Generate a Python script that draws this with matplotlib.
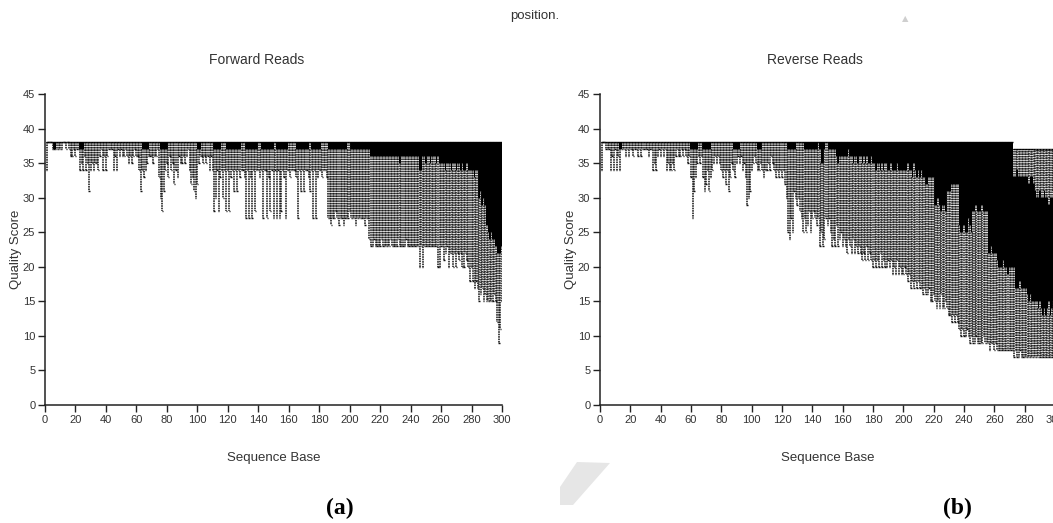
import numpy as np
import matplotlib
matplotlib.use("Agg")
from matplotlib import pyplot as plt
from matplotlib.patches import Polygon

plt.rcParams['font.family'] = ['Liberation Sans', 'DejaVu Sans']

# per-base quality summaries (bases 1..300)
# forward reads: lower whisker, box bottom, box top (= upper whisker)
fwd_low = [
    34, 38, 38, 38, 37, 37, 37, 37, 37, 37,
    37, 38, 38, 37, 38, 37, 36, 36, 37, 36,
    37, 37, 34, 35, 34, 36, 34, 35, 31, 34,
    35, 34, 35, 35, 34, 36, 37, 34, 36, 34,
    36, 37, 37, 37, 34, 36, 34, 37, 36, 37,
    36, 36, 37, 36, 35, 36, 35, 36, 37, 36,
    36, 34, 31, 34, 33, 34, 35, 36, 36, 36,
    35, 36, 36, 37, 33, 30, 28, 31, 34, 35,
    33, 36, 34, 35, 32, 34, 33, 36, 35, 35,
    36, 35, 36, 37, 34, 32, 33, 31, 30, 32,
    35, 36, 36, 35, 36, 35, 36, 34, 36, 34,
    28, 30, 34, 28, 33, 34, 30, 34, 28, 34,
    28, 33, 34, 31, 34, 31, 34, 33, 34, 34,
    33, 27, 34, 27, 33, 27, 34, 28, 34, 34,
    33, 34, 27, 34, 34, 27, 33, 28, 34, 27,
    34, 27, 34, 27, 28, 34, 33, 27, 34, 34,
    33, 34, 34, 34, 33, 27, 34, 31, 34, 31,
    34, 34, 33, 31, 34, 27, 34, 27, 33, 34,
    34, 33, 34, 34, 33, 27, 27, 26, 27, 27,
    28, 27, 26, 27, 27, 26, 27, 27, 27, 28,
    27, 27, 27, 26, 27, 27, 27, 27, 27, 26,
    27, 27, 24, 23, 23, 24, 23, 23, 23, 23,
    24, 23, 23, 23, 23, 23, 24, 23, 23, 23,
    23, 24, 23, 23, 23, 23, 24, 23, 23, 23,
    23, 23, 23, 23, 23, 20, 23, 20, 23, 23,
    23, 23, 23, 23, 23, 23, 23, 20, 20, 23,
    23, 21, 22, 23, 20, 22, 22, 20, 22, 20,
    22, 21, 22, 20, 20, 22, 21, 20, 18, 20,
    18, 17, 18, 17, 15, 16, 17, 15, 16, 15,
    15, 15, 15, 15, 16, 15, 12, 9, 11, 15,
]
fwd_q1 = [
    38, 38, 38, 38, 38, 37, 37, 38, 38, 38,
    38, 38, 38, 38, 38, 38, 38, 38, 38, 38,
    38, 38, 37, 37, 37, 38, 38, 38, 38, 38,
    38, 38, 38, 38, 38, 38, 38, 38, 38, 38,
    38, 38, 38, 38, 38, 38, 38, 38, 38, 38,
    38, 38, 38, 38, 38, 38, 38, 38, 38, 38,
    38, 38, 38, 37, 37, 37, 37, 37, 38, 38,
    38, 38, 38, 38, 38, 37, 37, 37, 37, 37,
    38, 38, 38, 38, 38, 38, 38, 38, 38, 38,
    38, 38, 38, 38, 38, 38, 38, 38, 38, 37,
    37, 37, 38, 38, 38, 38, 38, 38, 38, 38,
    37, 37, 37, 37, 37, 38, 38, 38, 37, 37,
    37, 37, 37, 37, 37, 37, 37, 37, 38, 38,
    38, 37, 37, 37, 37, 37, 37, 37, 37, 38,
    38, 37, 37, 37, 37, 37, 37, 37, 37, 37,
    38, 37, 37, 37, 37, 37, 37, 37, 37, 38,
    38, 38, 38, 38, 37, 37, 37, 37, 37, 37,
    37, 37, 37, 38, 37, 37, 37, 37, 37, 37,
    37, 38, 38, 38, 38, 37, 37, 37, 37, 37,
    37, 37, 37, 37, 37, 37, 37, 37, 38, 38,
    37, 37, 37, 37, 37, 37, 37, 37, 37, 37,
    37, 37, 37, 36, 36, 36, 36, 36, 36, 36,
    36, 36, 36, 36, 36, 36, 36, 36, 36, 36,
    36, 36, 35, 36, 36, 36, 36, 36, 36, 36,
    36, 36, 36, 36, 36, 34, 34, 36, 36, 35,
    36, 36, 35, 36, 36, 36, 35, 36, 35, 35,
    35, 35, 34, 35, 35, 35, 34, 35, 35, 34,
    35, 35, 34, 35, 34, 34, 35, 34, 34, 34,
    34, 33, 34, 34, 30, 31, 29, 30, 29, 26,
    25, 24, 25, 24, 24, 23, 22, 22, 22, 23,
]
fwd_top = [
    38, 38, 38, 38, 38, 38, 38, 38, 38, 38, 38, 38, 38, 38, 38, 38, 38, 38, 38, 38,
    38, 38, 38, 38, 38, 38, 38, 38, 38, 38, 38, 38, 38, 38, 38, 38, 38, 38, 38, 38,
    38, 38, 38, 38, 38, 38, 38, 38, 38, 38, 38, 38, 38, 38, 38, 38, 38, 38, 38, 38,
    38, 38, 38, 38, 38, 38, 38, 38, 38, 38, 38, 38, 38, 38, 38, 38, 38, 38, 38, 38,
    38, 38, 38, 38, 38, 38, 38, 38, 38, 38, 38, 38, 38, 38, 38, 38, 38, 38, 38, 38,
    38, 38, 38, 38, 38, 38, 38, 38, 38, 38, 38, 38, 38, 38, 38, 38, 38, 38, 38, 38,
    38, 38, 38, 38, 38, 38, 38, 38, 38, 38, 38, 38, 38, 38, 38, 38, 38, 38, 38, 38,
    38, 38, 38, 38, 38, 38, 38, 38, 38, 38, 38, 38, 38, 38, 38, 38, 38, 38, 38, 38,
    38, 38, 38, 38, 38, 38, 38, 38, 38, 38, 38, 38, 38, 38, 38, 38, 38, 38, 38, 38,
    38, 38, 38, 38, 38, 38, 38, 38, 38, 38, 38, 38, 38, 38, 38, 38, 38, 38, 38, 38,
    38, 38, 38, 38, 38, 38, 38, 38, 38, 38, 38, 38, 38, 38, 38, 38, 38, 38, 38, 38,
    38, 38, 38, 38, 38, 38, 38, 38, 38, 38, 38, 38, 38, 38, 38, 38, 38, 38, 38, 38,
    38, 38, 38, 38, 38, 38, 38, 38, 38, 38, 38, 38, 38, 38, 38, 38, 38, 38, 38, 38,
    38, 38, 38, 38, 38, 38, 38, 38, 38, 38, 38, 38, 38, 38, 38, 38, 38, 38, 38, 38,
    38, 38, 38, 38, 38, 38, 38, 38, 38, 38, 38, 38, 38, 38, 38, 38, 38, 38, 38, 38,
]

# reverse reads: lower whisker, box bottom, box top, upper whisker
rev_low = [
    34, 38, 38, 37, 37, 37, 34, 36, 34, 37,
    34, 36, 34, 37, 37, 37, 36, 37, 36, 37,
    37, 36, 37, 37, 36, 37, 36, 37, 37, 37,
    37, 36, 37, 37, 34, 35, 34, 36, 37, 36,
    37, 36, 37, 34, 35, 34, 34, 35, 34, 36,
    37, 36, 36, 37, 36, 37, 36, 35, 36, 33,
    27, 31, 33, 35, 36, 35, 36, 33, 31, 32,
    34, 31, 33, 34, 35, 36, 35, 36, 35, 34,
    33, 34, 32, 34, 31, 33, 35, 34, 33, 35,
    36, 35, 36, 34, 35, 33, 29, 30, 31, 34,
    35, 36, 35, 34, 34, 35, 34, 33, 34, 34,
    35, 34, 36, 35, 34, 33, 34, 33, 34, 33,
    34, 32, 30, 25, 24, 27, 25, 31, 30, 29,
    30, 28, 27, 25, 27, 25, 26, 28, 25, 27,
    28, 27, 26, 27, 23, 25, 23, 24, 27, 26,
    27, 25, 23, 24, 23, 26, 23, 24, 25, 23,
    24, 23, 22, 24, 23, 22, 24, 22, 23, 22,
    23, 22, 21, 22, 21, 23, 21, 22, 21, 20,
    21, 20, 21, 20, 22, 20, 21, 20, 20, 21,
    20, 21, 19, 20, 19, 21, 19, 20, 19, 19,
    20, 19, 18, 19, 17, 18, 17, 18, 17, 18,
    17, 17, 16, 17, 16, 16, 17, 15, 15, 16,
    15, 14, 15, 14, 16, 14, 14, 15, 14, 13,
    13, 12, 13, 12, 13, 12, 11, 10, 11, 10,
    10, 11, 10, 9, 10, 9, 9, 10, 9, 9,
    9, 9, 10, 9, 9, 9, 8, 9, 9, 8,
    9, 8, 8, 8, 8, 8, 8, 8, 8, 8,
    8, 8, 7, 8, 7, 7, 8, 7, 7, 7,
    7, 7, 7, 7, 7, 7, 7, 7, 7, 7,
    7, 7, 7, 7, 7, 7, 7, 7, 7, 7,
]
rev_q1 = [
    38, 38, 38, 38, 38, 38, 38, 38, 38, 38,
    38, 38, 37, 37, 38, 38, 38, 38, 38, 38,
    38, 38, 38, 38, 38, 38, 38, 38, 38, 38,
    38, 38, 38, 38, 38, 38, 38, 38, 38, 38,
    38, 38, 38, 38, 38, 38, 38, 38, 38, 38,
    38, 38, 38, 38, 38, 38, 38, 38, 38, 37,
    37, 37, 37, 37, 38, 38, 38, 37, 37, 37,
    37, 37, 37, 38, 38, 38, 38, 38, 38, 38,
    38, 38, 38, 38, 38, 38, 38, 37, 37, 37,
    37, 37, 38, 38, 38, 38, 38, 38, 38, 38,
    38, 38, 38, 37, 37, 37, 38, 38, 38, 38,
    38, 38, 38, 38, 38, 38, 38, 38, 38, 38,
    38, 38, 38, 37, 37, 37, 37, 37, 37, 38,
    38, 38, 38, 38, 37, 37, 37, 37, 37, 37,
    37, 37, 37, 38, 37, 35, 35, 37, 38, 38,
    37, 37, 37, 37, 37, 36, 35, 36, 36, 36,
    36, 36, 36, 37, 36, 36, 35, 36, 36, 35,
    36, 36, 35, 36, 35, 36, 35, 35, 36, 35,
    35, 34, 35, 35, 34, 35, 34, 35, 35, 34,
    34, 35, 34, 34, 34, 35, 34, 34, 34, 34,
    34, 34, 35, 34, 34, 33, 35, 34, 33, 34,
    33, 34, 33, 33, 32, 32, 33, 33, 33, 33,
    29, 29, 30, 29, 28, 29, 29, 28, 31, 31,
    31, 32, 32, 32, 32, 32, 26, 25, 25, 26,
    25, 25, 27, 26, 25, 28, 28, 29, 28, 28,
    28, 29, 28, 28, 28, 22, 22, 23, 22, 22,
    22, 21, 20, 20, 20, 21, 20, 20, 19, 20,
    20, 20, 20, 17, 17, 17, 18, 17, 17, 17,
    17, 16, 15, 16, 15, 15, 15, 15, 14, 15,
    14, 13, 14, 13, 14, 15, 13, 14, 15, 13,
]
rev_q3 = [
    38, 38, 38, 38, 38, 38, 38, 38, 38, 38, 38, 38, 38, 38, 38, 38, 38, 38, 38, 38,
    38, 38, 38, 38, 38, 38, 38, 38, 38, 38, 38, 38, 38, 38, 38, 38, 38, 38, 38, 38,
    38, 38, 38, 38, 38, 38, 38, 38, 38, 38, 38, 38, 38, 38, 38, 38, 38, 38, 38, 38,
    38, 38, 38, 38, 38, 38, 38, 38, 38, 38, 38, 38, 38, 38, 38, 38, 38, 38, 38, 38,
    38, 38, 38, 38, 38, 38, 38, 38, 38, 38, 38, 38, 38, 38, 38, 38, 38, 38, 38, 38,
    38, 38, 38, 38, 38, 38, 38, 38, 38, 38, 38, 38, 38, 38, 38, 38, 38, 38, 38, 38,
    38, 38, 38, 38, 38, 38, 38, 38, 38, 38, 38, 38, 38, 38, 38, 38, 38, 38, 38, 38,
    38, 38, 38, 38, 38, 38, 38, 38, 38, 38, 38, 38, 38, 38, 38, 38, 38, 38, 38, 38,
    38, 38, 38, 38, 38, 38, 38, 38, 38, 38, 38, 38, 38, 38, 38, 38, 38, 38, 38, 38,
    38, 38, 38, 38, 38, 38, 38, 38, 38, 38, 38, 38, 38, 38, 38, 38, 38, 38, 38, 38,
    38, 38, 38, 38, 38, 38, 38, 38, 38, 38, 38, 38, 38, 38, 38, 38, 38, 38, 38, 38,
    38, 38, 38, 38, 38, 38, 38, 38, 38, 38, 38, 38, 38, 38, 38, 38, 38, 38, 38, 38,
    38, 38, 38, 38, 38, 38, 38, 38, 38, 38, 38, 38, 38, 38, 38, 38, 38, 38, 38, 38,
    38, 38, 38, 38, 38, 38, 38, 38, 38, 38, 38, 38, 33, 33, 34, 33, 33, 33, 33, 33,
    33, 33, 32, 33, 33, 32, 31, 30, 30, 31, 30, 30, 31, 30, 30, 29, 30, 30, 31, 30,
]
rev_hi = [
    38, 38, 38, 38, 38, 38, 38, 38, 38, 38, 38, 38, 38, 38, 38, 38, 38, 38, 38, 38,
    38, 38, 38, 38, 38, 38, 38, 38, 38, 38, 38, 38, 38, 38, 38, 38, 38, 38, 38, 38,
    38, 38, 38, 38, 38, 38, 38, 38, 38, 38, 38, 38, 38, 38, 38, 38, 38, 38, 38, 38,
    38, 38, 38, 38, 38, 38, 38, 38, 38, 38, 38, 38, 38, 38, 38, 38, 38, 38, 38, 38,
    38, 38, 38, 38, 38, 38, 38, 38, 38, 38, 38, 38, 38, 38, 38, 38, 38, 38, 38, 38,
    38, 38, 38, 38, 38, 38, 38, 38, 38, 38, 38, 38, 38, 38, 38, 38, 38, 38, 38, 38,
    38, 38, 38, 38, 38, 38, 38, 38, 38, 38, 38, 38, 38, 38, 38, 38, 38, 38, 38, 38,
    38, 38, 38, 38, 38, 38, 38, 38, 38, 38, 38, 38, 38, 38, 38, 38, 38, 38, 38, 38,
    38, 38, 38, 38, 38, 38, 38, 38, 38, 38, 38, 38, 38, 38, 38, 38, 38, 38, 38, 38,
    38, 38, 38, 38, 38, 38, 38, 38, 38, 38, 38, 38, 38, 38, 38, 38, 38, 38, 38, 38,
    38, 38, 38, 38, 38, 38, 38, 38, 38, 38, 38, 38, 38, 38, 38, 38, 38, 38, 38, 38,
    38, 38, 38, 38, 38, 38, 38, 38, 38, 38, 38, 38, 38, 38, 38, 38, 38, 38, 38, 38,
    38, 38, 38, 38, 38, 38, 38, 38, 38, 38, 38, 38, 38, 38, 38, 38, 38, 38, 38, 38,
    38, 38, 38, 38, 38, 38, 38, 38, 38, 38, 38, 38, 37, 37, 37, 37, 37, 37, 37, 37,
    37, 37, 37, 37, 37, 37, 37, 37, 37, 37, 37, 37, 37, 37, 37, 37, 37, 37, 37, 37,
]

x_ticks = list(range(0, 301, 20))
y_ticks = list(range(0, 46, 5))

W, H = 1053, 523
fig = plt.figure(figsize=(W / 100, H / 100), dpi=100)
fig.patch.set_facecolor('white')

TXT = '#333333'


def px(x, y):
    # pixel position (from top-left) to figure fraction
    return x / W, 1 - y / H


def draw_panel(ax, low, q1, q3, hi, title, title_x):
    pos = np.arange(1, len(low) + 1)
    low, q1, q3, hi = [np.asarray(a, dtype=float) for a in (low, q1, q3, hi)]
    dash = (0, (1.05, 0.55))
    # whiskers: dash pattern starts at the box so neighbours line up in stripes
    ax.vlines(pos, q1, low, colors='#111111', linestyles=dash, linewidth=1.1)
    ax.vlines(pos, q3, hi, colors='#111111', linestyles=dash, linewidth=1.1)
    ax.hlines(low, pos - 0.45, pos + 0.45, colors='#111111', linewidth=1.0)
    ax.hlines(hi, pos - 0.5, pos + 0.5, colors='black', linewidth=1.0)
    ax.bar(pos, q3 - q1, bottom=q1, width=1.0, color='black', linewidth=0)

    ax.set_xlim(0, 300)
    ax.set_ylim(0, 45)
    ax.set_xticks(x_ticks)
    ax.set_yticks(y_ticks)
    for s in ('top', 'right'):
        ax.spines[s].set_visible(False)
    for s in ('left', 'bottom'):
        ax.spines[s].set_linewidth(1.1)
        ax.spines[s].set_color('#222222')
    ax.tick_params(direction='out', length=5, width=1, colors='#222222',
                   labelsize=8, labelcolor=TXT, pad=2)
    ax.set_xlabel('Sequence Base', fontsize=9.5, color=TXT, labelpad=20)
    ax.set_ylabel('Quality Score', fontsize=9.5, color=TXT, labelpad=1)
    ax.text(title_x, 1.11, title, transform=ax.transAxes, ha='center', va='center',
            fontsize=10, color=TXT)


ax_f = fig.add_axes([45 / W, (H - 405) / H, 457 / W, 311 / H])
draw_panel(ax_f, fwd_low, fwd_q1, fwd_top, fwd_top, 'Forward Reads', 0.464)

ax_r = fig.add_axes([600 / W, (H - 405) / H, 455 / W, 311 / H])
draw_panel(ax_r, rev_low, rev_q1, rev_q3, rev_hi, 'Reverse Reads', 0.473)

# faint watermark fragment below the reverse panel
wm = [px(577, 462), px(610, 463), px(573, 505), px(560, 505), px(560, 487)]
fig.patches.append(Polygon(wm, closed=True, transform=fig.transFigure,
                           facecolor='#e6e6e6', edgecolor='none', zorder=0))

# figure captions
fig.text(*px(340, 508), '(a)', ha='center', va='center', fontsize=17,
         fontweight='bold', family='Liberation Serif')
fig.text(*px(957, 508), '(b)', ha='center', va='center', fontsize=17,
         fontweight='bold', family='Liberation Serif')
fig.text(*px(535, 16), 'position.', ha='center', va='center', fontsize=9.5, color=TXT)
fig.text(*px(905, 19), '\u25b2', ha='center', va='center', fontsize=6,
         color='#cfcfcf', family='DejaVu Sans')

fig.savefig('out.png', dpi=100, facecolor='white')
